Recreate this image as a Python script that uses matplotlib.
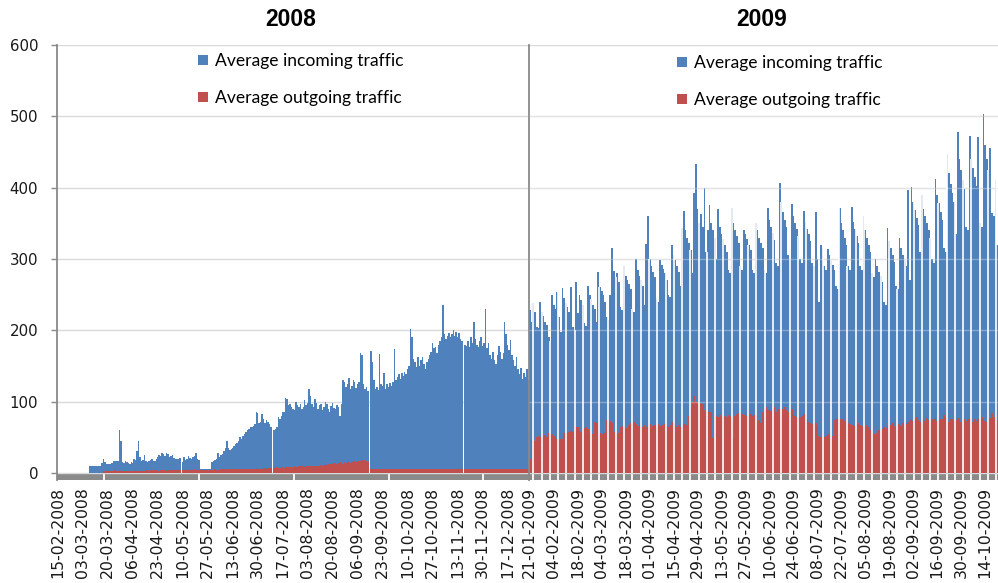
import numpy as np
import pandas as pd
import matplotlib
matplotlib.use("Agg")
import matplotlib.pyplot as plt
from matplotlib.ticker import MultipleLocator, FixedLocator

# daily averages, 15-02-2008 .. 31-12-2008
start_2008 = "2008-02-15"
in_2008 = [
    0, 0, 0, 0, 0, 0, 0, 0, 0, 0, 0, 0, 0, 0, 0, 0, 0, 0, 0, 0, 0, 0,
    9, 10, 10, 10, 10, 10, 10, 9,
    14, 20, 15, 13, 12, 12, 13, 14,
    16, 17, 16, 17,
    60, 45,
    15, 14, 16, 15, 14, 13, 15, 14, 20, 18,
    30, 45, 22,
    16, 18, 25, 17, 15, 16, 18, 19, 17, 16,
    20, 22, 25, 23, 28, 26, 24, 28, 26, 22, 24, 25, 21, 20,
    20, 19, 21,
    0,
    15, 22, 18, 20, 23, 21, 19, 22, 24, 28, 20, 18,
    5, 5, 5, 5, 5, 5, 5, 5,
    15, 16, 18, 20, 28, 22, 25, 27, 30, 35, 45,
    35, 32, 33, 35, 38, 40, 42, 45, 50, 48,
    52, 55, 58, 60, 62, 65, 64, 66, 68,
    85, 84,
    70, 72, 82, 75, 70, 74, 72, 68, 65,
    0,
    60, 62,
    65, 78, 75, 80, 85, 86, 105, 104, 95, 96, 92, 90,
    88, 100, 95, 92, 96, 90, 93, 102, 95, 98,
    118,
    108, 96, 92, 104, 98, 90, 95, 97, 88, 93, 100, 96, 90, 86, 94, 98, 91, 89, 95, 92, 80, 97,
    130, 128, 120, 125, 133, 118, 122, 130, 127, 119, 125, 128,
    168, 165,
    125, 118, 120, 115,
    0,
    171, 155, 130,
    118, 120, 116, 167, 125, 122, 140, 118, 124, 120, 126, 122, 128,
    174,
    130, 135, 138, 132, 140, 136, 142, 138, 145, 150,
    202, 190,
    160, 155, 148, 163, 150, 158, 162, 152, 146, 155, 160, 165, 170,
    182, 175, 177, 168, 180,
    185, 190, 235, 195, 188, 192, 196, 190,
    195, 200, 192, 198, 190, 196, 188, 185,
    0,
    180, 178, 185, 176, 190, 182,
    212,
    188, 180, 176, 185, 190, 178, 182,
    230,
    175, 182, 165, 160, 170, 158, 152, 165, 178, 170, 160, 168,
    212,
    195, 180, 172, 186, 165, 158, 150, 162,
    145, 138, 147, 132, 140, 135, 145, 130,
]
out_2008 = [
    0, 0, 0, 0, 0, 0, 0, 0, 0, 0, 0, 0, 0, 0, 0, 0, 0, 0, 0, 0, 0, 0, 0, 0, 0, 0, 0, 0, 0, 0, 0,
    3, 3, 3, 4, 3, 3, 3, 3, 4, 3, 3, 3, 3, 3, 3, 4, 3, 3, 3, 3, 3, 3, 4, 3, 3, 3, 3, 3, 3, 4,
    4, 3, 4, 4, 3, 4, 4, 4, 3, 4, 4, 4, 4, 3, 4, 4, 4, 4, 4, 4, 4, 4, 4,
    0,
    4, 4, 5, 4, 4, 4, 4, 4, 5, 4, 4, 4, 4, 4, 4, 4, 4, 4, 4, 4, 4, 4, 5, 4, 4, 4,
    5, 5, 5, 4, 5, 5, 5, 5, 5, 5, 5, 6, 5, 5, 5, 5, 5, 6, 5, 6,
    6, 6, 6, 6, 6, 7, 6, 6, 6, 7, 7, 6, 7, 7, 7,
    0,
    7, 7, 8, 7, 7, 8, 8, 7, 8, 8, 8, 8, 7, 8, 9, 8, 8, 9, 9, 9,
    9, 8, 9, 10, 9, 9, 10, 10, 9, 10, 10, 10, 11, 10,
    11, 12, 11, 12, 13, 12, 13, 14, 13, 12, 14, 15, 14, 13, 15, 14,
    16, 15, 14, 15, 16, 17, 15, 16, 17, 16, 18, 17, 18, 16, 15,
    0,
    5, 6, 5, 5, 6, 5, 5, 5, 6, 5, 5, 5, 6, 5, 5, 5, 5, 6, 5, 5,
    5, 6, 5, 5, 5, 5, 6, 5, 5, 5, 6, 5, 5, 5, 6, 5, 5, 5, 5, 6,
    5, 5, 5, 6, 5, 5, 5, 5, 6, 5, 5, 6, 5, 5, 5, 5, 6, 5, 5, 5,
    5, 6, 5,
    0,
    5, 5, 6, 5, 5, 5, 6, 5, 5, 5, 5, 6, 5, 5, 5, 6, 5, 5, 5, 5,
    6, 5, 5, 5, 6, 5, 5, 5, 5, 6, 5, 5, 5, 6, 5, 5, 5, 6, 5, 5,
    5, 6, 5, 5,
]
labels_2008 = ["15-02-2008", "03-03-2008", "20-03-2008", "06-04-2008", "23-04-2008",
               "10-05-2008", "27-05-2008", "13-06-2008", "30-06-2008", "17-07-2008",
               "03-08-2008", "20-08-2008", "06-09-2008", "23-09-2008", "10-10-2008",
               "27-10-2008", "13-11-2008", "30-11-2008", "17-12-2008"]

# daily averages, 21-01-2009 .. 21-10-2009
start_2009 = "2009-01-21"
in_2009 = [
    229, 212, 238, 225, 205, 203,
    240, 226, 220, 212, 208, 190, 185,
    250, 236, 230, 254, 218, 198, 259,
    245, 238, 232, 226, 261, 205, 200,
    268, 224, 250, 242, 236, 210, 206,
    262, 250, 244, 236, 230, 212, 282,
    260, 255, 250, 240, 218, 214, 250,
    316, 283, 275, 280, 268, 232, 228,
    290, 276, 270, 265, 258, 230, 226,
    300, 284, 276, 270, 262, 236, 321,
    360, 300, 290, 282, 275, 245, 240,
    299, 292, 286, 280, 270, 250, 246,
    320, 305, 298, 290, 282, 262, 344,
    367, 340, 330, 322, 312, 280, 393,
    433, 370, 350, 363, 345, 400, 310,
    340, 376, 350, 340, 330, 300, 370,
    345, 335, 328, 320, 310, 285, 280,
    372, 350, 340, 332, 322, 290, 285,
    340, 335, 328, 320, 312, 285, 280,
    350, 340, 330, 322, 315, 285, 280,
    372, 355, 345, 336, 326, 295, 290,
    407, 380, 366, 355, 345, 305, 298,
    377, 360, 350, 342, 332, 300, 295,
    367, 352, 342, 335, 325, 295, 290,
    366, 300, 240, 320, 315, 290, 285,
    314, 305, 298, 292, 285, 262, 258,
    372, 350, 340, 330, 320, 290, 285,
    373, 352, 342, 332, 322, 290, 285,
    360, 340, 330, 320, 310, 280, 275,
    300, 290, 282, 276, 268, 240, 236,
    344, 325, 315, 305, 296, 262, 258,
    330, 315, 305, 298, 290, 396, 270,
    401, 380, 368, 358, 348, 310, 390,
    370, 360, 350, 340, 330, 300, 295,
    412, 390, 378, 366, 355, 315, 310,
    447, 420, 405, 392, 380, 335, 478,
    440, 425, 410, 398, 345, 340, 473,
    440, 428, 415, 402, 471, 350, 345,
    503, 460, 440, 425, 456, 365, 360,
    410, 320,
]
out_2009 = [
    20,
    46, 48, 45, 50,
    52, 50, 54, 52, 53, 51,
    56, 54, 55, 52, 50,
    47, 46, 48, 47,
    56, 55,
    58, 57, 59, 58,
    67, 65, 64,
    60, 58, 61,
    63, 64, 62,
    56, 57, 55,
    72, 70, 71,
    56, 55, 58, 56,
    74, 72, 73, 70,
    58, 57, 55, 56,
    64, 66, 65, 63, 62,
    67, 70, 68, 71, 69,
    66, 68, 70, 64, 67, 65, 66, 69, 63, 66, 67, 65, 68,
    66, 67, 65, 68, 66, 64, 67, 72, 70, 66, 65, 67, 64, 66, 68, 69, 67,
    80, 92, 100,
    108,
    100, 97, 95, 98, 96,
    88, 86, 85, 87, 86, 49,
    81, 80, 79, 81, 80, 78, 80, 79, 81, 80,
    76, 49, 80,
    82, 84, 80, 83, 81, 84, 80, 82, 83, 80, 81, 82,
    72, 74, 70,
    86, 90, 92, 88, 91, 87, 89, 92, 86, 90, 88,
    85, 90, 92, 88, 86, 91, 89,
    82, 80, 78, 81, 79, 80, 82, 78,
    75, 72, 70, 68, 72,
    70, 66,
    52, 51, 53, 50, 52, 55, 53, 51, 52,
    74, 76, 77, 75, 74, 76, 73, 75,
    70, 68, 67, 69, 66, 68, 70, 67, 66, 68, 65, 67,
    64, 60, 58, 55, 53, 56, 60, 58, 62, 64, 63,
    66, 68, 67, 70, 66, 65, 69, 68, 66, 70, 67, 68,
    72, 74, 76, 73, 75, 78, 74, 72, 76, 75,
    73, 77, 74, 72, 75, 76, 78, 73, 74, 75,
    76, 81, 77, 74, 72, 75, 76, 73, 74, 77,
    75, 72, 74, 76, 73, 75, 77, 74, 72, 75,
    73, 76, 74, 78, 75, 73, 72, 76, 77, 84,
    78, 75, 74,
]
labels_2009 = ["21-01-2009", "04-02-2009", "18-02-2009", "04-03-2009", "18-03-2009",
               "01-04-2009", "15-04-2009", "29-04-2009", "13-05-2009", "27-05-2009",
               "10-06-2009", "24-06-2009", "08-07-2009", "22-07-2009", "05-08-2009",
               "19-08-2009", "02-09-2009", "16-09-2009", "30-09-2009", "14-10-2009"]

BLUE = "#4F81BD"
RED = "#C0504D"
GRID = "#D9D9D9"
AXIS = "#898989"
BAND = "#8A8A8A"

fig = plt.figure(figsize=(9.98, 5.83), dpi=100)
W, H = 998, 583
ax1 = fig.add_axes([57 / W, 103 / H, 472 / W, 435 / H])
ax2 = fig.add_axes([529 / W, 103 / H, 469 / W, 435 / H])


def draw_year(ax, start, incoming, outgoing, labels):
    days = pd.date_range(start, periods=len(incoming), freq="D")
    idx = np.arange(len(days))
    b_in = ax.bar(idx, incoming, width=1.0, color=BLUE, linewidth=0,
                  antialiased=False, zorder=1)
    b_out = ax.bar(idx, outgoing, width=1.0, color=RED, linewidth=0,
                   antialiased=False, zorder=1.5)
    ax.set_xlim(-0.5, len(days) - 0.5)
    ax.set_ylim(-10, 600)
    # thick grey category axis under the zero line
    ax.axhspan(-10, 0, color=BAND, linewidth=0, zorder=0.4)

    ax.set_yticks(range(0, 601, 100))
    ax.yaxis.grid(True, color=GRID, linewidth=1.0)
    ax.set_axisbelow(True)

    pos = [days.get_loc(pd.to_datetime(s, format="%d-%m-%Y")) for s in labels]
    ax.xaxis.set_major_locator(FixedLocator(pos))
    ax.set_xticklabels(labels, rotation=90, fontsize=11.3, family="DejaVu Sans",
                       color="#1a1a1a", va="top", ha="center")
    ax.tick_params(axis="x", which="major", length=0, pad=5)
    ax.tick_params(axis="x", which="minor", direction="in", length=5.2,
                   width=1.3, color="white")
    for side in ("top", "right", "bottom"):
        ax.spines[side].set_visible(False)
    ax.spines["left"].set_color(AXIS)
    ax.spines["left"].set_linewidth(1.3)
    return b_in, b_out


b_in1, b_out1 = draw_year(ax1, start_2008, in_2008, out_2008, labels_2008)
b_in2, b_out2 = draw_year(ax2, start_2009, in_2009, out_2009, labels_2009)

# 2008 axis: value labels on the left
ax1.tick_params(axis="y", length=4.5, width=1.0, color=AXIS, pad=9,
                labelsize=10.8, labelcolor="#1a1a1a")
ax1.xaxis.set_minor_locator(MultipleLocator(64.5, offset=31.5))

# 2009 axis: no value labels, white separators cut through the bars only
ax2.tick_params(axis="y", length=0, labelleft=False)
ax2.xaxis.set_minor_locator(MultipleLocator(4.83, offset=2.0))
sep = [x for x in ax2.xaxis.get_minorticklocs() if -0.5 < x < len(in_2009) - 0.5]
sep_top = [in_2009[int(round(x))] for x in sep]
ax2.vlines(sep, 0, sep_top, color="white", linewidth=1.2, zorder=3)
ax2.hlines(range(100, 600, 100), -0.5, len(in_2009) - 0.5, color="white",
           alpha=0.3, linewidth=1.0, zorder=3)

for ax, b_in, b_out, x0, y0 in ((ax1, b_in1, b_out1, 198, 53),
                                (ax2, b_in2, b_out2, 677, 55)):
    ax.legend([b_in, b_out], ["Average incoming traffic", "Average outgoing traffic"],
              loc="upper left", bbox_to_anchor=(x0 / W, 1 - y0 / H),
              bbox_transform=fig.transFigure, frameon=False, borderpad=0,
              borderaxespad=0, handlelength=0.55, handleheight=0.55,
              handletextpad=0.4, labelspacing=1.2,
              prop={"family": "Lato", "size": 12.6})

fig.text(291 / W, 1 - 19 / H, "2008", ha="center", va="center",
         family="Liberation Sans", fontweight="bold", fontsize=16.5)
fig.text(762 / W, 1 - 19 / H, "2009", ha="center", va="center",
         family="Liberation Sans", fontweight="bold", fontsize=16.5)

fig.savefig("out.png", dpi=100, facecolor="white")
